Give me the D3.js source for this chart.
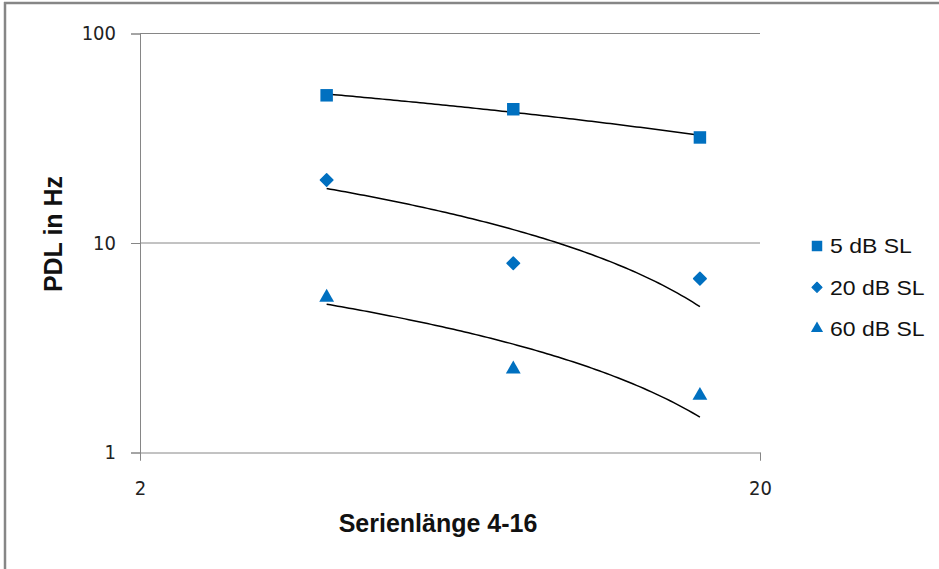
<!DOCTYPE html>
<html>
<head>
<meta charset="utf-8">
<script src="https://cdn.jsdelivr.net/npm/d3@7"></script>
<style>
  html, body { margin: 0; padding: 0; background: #fff; }
  svg { display: block; }
  .tick-label { font-family: "DejaVu Sans Condensed", "DejaVu Sans", sans-serif; font-size: 20px; fill: #222; }
  .axis-title { font-family: "Liberation Sans", Arial, sans-serif; font-weight: bold; font-size: 25px; fill: #111; }
  .legend-label { font-family: "Liberation Sans", Arial, sans-serif; font-size: 20px; fill: #111; }
</style>
</head>
<body>
<svg id="chart" width="939" height="569"></svg>
<script>
// Series length (x) and pitch discrimination limen in Hz (y)
const serienlaenge = [4, 8, 16];
const seriesNames = ["5 dB SL", "20 dB SL", "60 dB SL"];
const pdl5dB  = [50.7, 43.5, 31.9];
const pdl20dB = [20.0, 8.0, 6.76];
const pdl60dB = [5.5, 2.5, 1.87];
const markerShapes = ["square", "diamond", "triangle"];

const xTickValues = [2, 20];
const yTickValues = [1, 10, 100];

const seriesValues = [pdl5dB, pdl20dB, pdl60dB];

const svg = d3.select("#chart");
const W = 939, H = 569;
const plot = { left: 140, right: 760, top: 33.5, bottom: 452.5 };
const markerColor = "#0070C0";
const gridColor = "#868686";

// Outer frame (top and left edges)
svg.append("line").attr("x1", 4).attr("x2", W).attr("y1", 3).attr("y2", 3)
  .attr("stroke", gridColor).attr("stroke-width", 2.5);
svg.append("line").attr("x1", 5).attr("x2", 5).attr("y1", 2).attr("y2", H)
  .attr("stroke", gridColor).attr("stroke-width", 2.5);

const x = d3.scaleLog().domain([2, 20]).range([plot.left, plot.right]);
const y = d3.scaleLog().domain([1, 100]).range([plot.bottom, plot.top]);

// Horizontal gridlines
svg.append("g").selectAll("line").data(yTickValues.filter(v => v > 1)).join("line")
  .attr("x1", plot.left).attr("x2", plot.right)
  .attr("y1", d => y(d)).attr("y2", d => y(d))
  .attr("stroke", gridColor).attr("stroke-width", 1);

// Y axis
const yAxis = d3.axisLeft(y).tickValues(yTickValues).tickFormat(d3.format("d"))
  .tickSize(9).tickPadding(15);
const gy = svg.append("g").attr("transform", `translate(${plot.left},0)`).call(yAxis);
gy.select(".domain").attr("stroke", gridColor);
gy.selectAll(".tick line").attr("stroke", gridColor);
gy.selectAll(".tick text").attr("class", "tick-label").attr("font-family", null).attr("font-size", null).attr("fill", null);

// X axis
const xAxis = d3.axisBottom(x).tickValues(xTickValues).tickFormat(d3.format("d"))
  .tickSize(8).tickSizeOuter(8).tickPadding(20);
const gx = svg.append("g").attr("transform", `translate(0,${plot.bottom})`).call(xAxis);
gx.select(".domain").attr("stroke", gridColor);
gx.selectAll(".tick line").attr("stroke", gridColor);
gx.selectAll(".tick text").attr("class", "tick-label").attr("font-family", null).attr("font-size", null).attr("fill", null);

// Axis titles
svg.append("text").attr("class", "axis-title")
  .attr("x", 438).attr("y", 532).attr("text-anchor", "middle")
  .text("Serienlänge 4-16");
svg.append("text").attr("class", "axis-title")
  .attr("transform", "translate(62,234) rotate(-90)")
  .attr("text-anchor", "middle")
  .text("PDL in Hz");

// Logarithmic trendlines: least-squares fit of y = a + b·ln(x)
function logFit(xv, yv) {
  const lx = xv.map(Math.log);
  const mx = d3.mean(lx), my = d3.mean(yv);
  const sxy = d3.sum(lx, (v, i) => (v - mx) * (yv[i] - my));
  const sxx = d3.sum(lx, v => (v - mx) ** 2);
  const b = sxy / sxx;
  return { a: my - b * mx, b };
}
const xMin = d3.min(serienlaenge), xMax = d3.max(serienlaenge);
const xs = d3.range(0, 101).map(i => xMin * Math.pow(xMax / xMin, i / 100));
const lineGen = d3.line().x(d => x(d[0])).y(d => y(d[1]));
seriesValues.forEach(vals => {
  const fit = logFit(serienlaenge, vals);
  const pts = xs.map(v => [v, fit.a + fit.b * Math.log(v)]);
  svg.append("path").attr("d", lineGen(pts))
    .attr("fill", "none").attr("stroke", "#000").attr("stroke-width", 1.5);
});

// Marker symbols
const symbolFor = {
  square: d3.symbol().type(d3.symbolSquare).size(156),
  diamond: d3.symbol().type(d3.symbolDiamond2).size(100),
  triangle: d3.symbol().type(d3.symbolTriangle).size(95)
};

seriesValues.forEach((vals, si) => {
  const shape = markerShapes[si];
  svg.append("g").selectAll("path").data(vals).join("path")
    .attr("d", symbolFor[shape]())
    .attr("transform", (d, i) => `translate(${x(serienlaenge[i])},${y(d)})`)
    .attr("fill", markerColor)
    .attr("stroke", markerColor)
    .attr("stroke-width", shape === "diamond" ? 1.5 : 0)
    .attr("stroke-linejoin", "round");
});

// Legend
const legendSymbols = {
  square: d3.symbol().type(d3.symbolSquare).size(110),
  diamond: d3.symbol().type(d3.symbolDiamond2).size(64),
  triangle: d3.symbol().type(d3.symbolTriangle).size(64)
};
const legend = svg.append("g");
seriesNames.forEach((name, i) => {
  const cy = 246 + i * 41.3;
  const shape = markerShapes[i];
  legend.append("path").attr("d", legendSymbols[shape]())
    .attr("transform", `translate(817,${cy})`)
    .attr("fill", markerColor).attr("stroke", markerColor)
    .attr("stroke-width", shape === "diamond" ? 1.2 : 0)
    .attr("stroke-linejoin", "round");
  legend.append("text").attr("class", "legend-label")
    .attr("transform", `translate(830,${cy}) scale(1.15,1)`)
    .attr("dy", "0.36em")
    .text(name);
});
</script>
</body>
</html>
